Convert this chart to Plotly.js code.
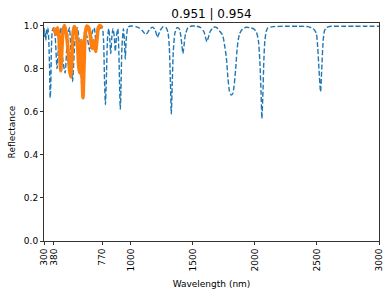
<!DOCTYPE html>
<html>
<head>
<meta charset="utf-8">
<script src="https://cdn.plot.ly/plotly-3.0.1.min.js"></script>
<style>
html,body{margin:0;padding:0;background:#fff;}
#chart{width:391px;height:294px;}
</style>
</head>
<body>
<div id="chart"></div>
<script>
// Blue dashed spectrum (full range)
var blueWavelength = [300,305,310,315,320,325,330,335,340,345,350,355,360,368,378,
  390,405,420,435,450,470,490,505,515,530,550,570,590,605,615,630,650,670,690,705,720,740,760,
  770,780,788,795,802,812,822,830,838,846,856,866,875,884,895,904,910,915,920,928,940,948,955,962,975,990,
  1010,1040,1070,1095,1108,1120,1132,1150,1175,1195,1207,1215,1223,1238,1260,1285,1300,1310,1318,1326,1334,1342,1355,1372,
  1390,1402,1412,1420,1428,1440,1460,1490,1530,1565,1590,1604,1613,1622,1638,1665,1690,
  1715,1740,1755,1770,1782,1795,1809,1822,1832,1845,1858,1875,1900,1930,1960,1990,2012,2028,2040,2050,2056,2063,2072,2080,2092,2105,
  2150,2250,2350,2430,2470,2494,2506,2516,2529,2540,2550,2560,2575,2600,2700,2800,2900,3000];
var blueReflect = [0.99,0.95,0.97,0.93,0.98,0.96,0.99,0.97,0.91,0.80,0.665,0.73,0.90,0.98,0.99,
  0.95,0.80,0.93,0.99,0.85,0.78,0.95,0.99,0.90,0.74,0.93,0.99,0.88,0.72,0.85,0.98,0.94,0.88,0.97,0.99,0.92,0.98,0.99,
  0.99,0.93,0.74,0.634,0.74,0.94,0.985,0.94,0.87,0.94,0.985,0.95,0.88,0.95,0.985,0.86,0.70,0.612,0.70,0.90,0.985,0.93,0.845,0.93,0.99,0.997,
  0.998,0.995,0.988,0.975,0.965,0.958,0.965,0.982,0.993,0.98,0.958,0.945,0.958,0.978,0.995,0.99,0.965,0.90,0.76,0.59,0.74,0.88,0.965,0.99,
  0.985,0.955,0.905,0.87,0.905,0.96,0.99,0.998,0.997,0.99,0.97,0.94,0.925,0.94,0.97,0.992,0.992,
  0.975,0.955,0.91,0.85,0.76,0.695,0.677,0.685,0.72,0.80,0.90,0.96,0.985,0.992,0.99,0.985,0.97,0.93,0.83,0.68,0.569,0.66,0.84,0.93,0.975,0.99,
  0.995,0.997,0.997,0.995,0.985,0.965,0.90,0.80,0.693,0.82,0.93,0.975,0.99,0.996,0.997,0.997,0.997,0.997];

// Orange solid spectrum (visible range)
var orangeWavelength = [380,390,400,410,420,428,435,442,452,465,478,495,505,515,523,532,542,555,568,580,588,595,600,606,614,622,632,645,660,672,682,690,698,705,716,726,738,750,760,770];
var orangeReflect = [0.99,0.97,0.96,0.99,0.95,0.86,0.79,0.86,0.97,1.0,0.97,0.88,0.80,0.763,0.82,0.95,0.995,0.985,0.93,0.81,0.78,0.86,0.93,0.80,0.665,0.80,0.96,0.998,0.99,0.96,0.91,0.894,0.93,0.92,0.88,0.93,0.99,1.0,0.995,0.99];

var xTickVals = [300,380,770,1000,1500,2000,2500,3000];
var xTickText = ['300','380','770','1000','1500','2000','2500','3000'];
var yTickVals = [0,0.2,0.4,0.6,0.8,1.0];
var titleText = '0.951 | 0.954';

var traces = [
  {x: blueWavelength, y: blueReflect, type: 'scatter', mode: 'lines',
   line: {color: '#1f77b4', width: 1.4, dash: '5px,2.2px', shape: 'spline', smoothing: 0.6}},
  {x: orangeWavelength, y: orangeReflect, type: 'scatter', mode: 'lines',
   line: {color: '#ff7f0e', width: 3.6, shape: 'spline', smoothing: 0.6}}
];

var fontFam = 'DejaVu Sans, sans-serif';
var layout = {
  width: 391, height: 294,
  paper_bgcolor: '#ffffff', plot_bgcolor: '#ffffff',
  margin: {l: 44, r: 12, t: 23, b: 53, pad: 0},
  showlegend: false,
  font: {family: fontFam, size: 9, color: '#000'},
  title: {text: titleText, x: 0.5, xref: 'paper', y: 1 - 14/294, yref: 'container', yanchor: 'middle',
          font: {family: fontFam, size: 12, color: '#000'}},
  xaxis: {range: [300, 3000], tickmode: 'array', tickvals: xTickVals, ticktext: xTickText,
          tickangle: -90, ticks: 'outside', ticklen: 3.2, tickwidth: 0.8, tickcolor: '#000',
          showline: true, linecolor: '#000', linewidth: 0.8, mirror: true, showgrid: false, zeroline: false,
          tickfont: {family: fontFam, size: 9, color: '#000'},
          title: {text: 'Wavelength (nm)', standoff: 10, font: {family: fontFam, size: 9, color: '#000'}}},
  yaxis: {range: [0, 1.012], tickmode: 'array', tickvals: yTickVals, tickformat: '.1f',
          ticks: 'outside', ticklen: 3.2, tickwidth: 0.8, tickcolor: '#000',
          showline: true, linecolor: '#000', linewidth: 0.8, mirror: true, showgrid: false, zeroline: false,
          tickfont: {family: fontFam, size: 9, color: '#000'},
          title: {text: 'Reflectance', standoff: 6, font: {family: fontFam, size: 9, color: '#000'}}}
};

Plotly.newPlot('chart', traces, layout, {staticPlot: true, displayModeBar: false});
</script>
</body>
</html>
